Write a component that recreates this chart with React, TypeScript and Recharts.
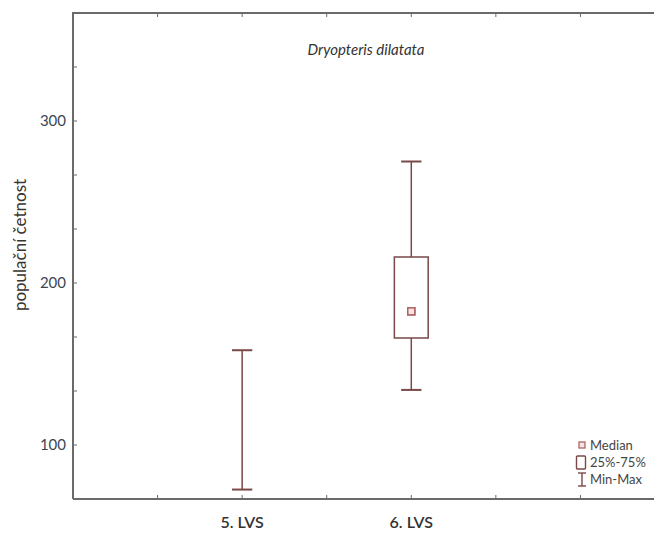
import {
  ComposedChart,
  ReferenceArea,
  ReferenceLine,
  Scatter,
  XAxis,
  YAxis
} from "recharts";

// positions of the groups on the numeric x axis (ticks 0..7)
const groups = ["5. LVS", "6. LVS"];
const groupX = [2, 4];
const minVals = [72.5, 134];
const q1Vals = [null, 166];
const medianVals = [null, 182.5];
const q3Vals = [null, 216];
const maxVals = [158.5, 275];

const xTicks = [0, 1, 2, 3, 4, 5, 6, 7];
const yTicks = [200 / 3, 100, 400 / 3, 500 / 3, 200, 700 / 3, 800 / 3, 300, 1000 / 3, 1100 / 3];
const yLabels = [100, 200, 300];
const yBottom = 200 / 3;
const yTop = 1100 / 3;

const font = "Lato, 'Open Sans', sans-serif";
const axisColor = "#6a6a6a";
const boxColor = "#7a4848";

const medianData = groupX
  .map((x, i) => ({ x, y: medianVals[i] }))
  .filter((d) => d.y !== null);

function MedianSquare(props: any) {
  const { cx, cy } = props;
  if (cx == null || cy == null) return null;
  return <rect x={cx - 3.5} y={cy - 3.5} width={7} height={7} fill="#f6e4e4" stroke="#b06464" strokeWidth={1.5} />;
}

function xLabel(v: number) {
  const i = groupX.indexOf(v);
  return i >= 0 ? groups[i] : "";
}

function yLabel(v: number) {
  return yLabels.some((l) => Math.abs(l - v) < 1e-6) ? String(Math.round(v)) : "";
}

export default function App() {
  const capHalf = 0.12;
  const boxHalf = 0.2;

  return (
    <div style={{ position: "relative", width: 662, height: 538, overflow: "hidden", margin: -8, background: "#fff" }}>
      <ComposedChart width={667} height={538} margin={{ top: 12, right: 2, bottom: 0, left: 0 }}>
        <XAxis
          dataKey="x"
          type="number"
          domain={[0, 7]}
          ticks={xTicks}
          tickFormatter={xLabel}
          height={39}
          tickSize={-4}
          tickMargin={22}
          axisLine={{ stroke: axisColor, strokeWidth: 2 }}
          tickLine={{ stroke: axisColor }}
          tick={{ fill: "#333", fontSize: 16, fontWeight: 600, fontFamily: font }}
          allowDataOverflow
        />
        {/* top edge of the frame, with inward ticks */}
        <XAxis
          xAxisId="top"
          orientation="top"
          dataKey="x"
          type="number"
          domain={[0, 7]}
          ticks={xTicks}
          tickFormatter={() => ""}
          height={1}
          tickSize={-4}
          axisLine={{ stroke: axisColor, strokeWidth: 2 }}
          tickLine={{ stroke: axisColor }}
          allowDataOverflow
        />
        <YAxis
          dataKey="y"
          type="number"
          domain={[yBottom, yTop]}
          ticks={yTicks}
          tickFormatter={yLabel}
          width={73}
          tickSize={-4}
          tickMargin={11}
          axisLine={{ stroke: axisColor, strokeWidth: 2 }}
          tickLine={{ stroke: axisColor }}
          tick={{ fill: "#3c4654", fontSize: 15, fontFamily: font }}
          allowDataOverflow
          label={{
            value: "populační četnost",
            content: () => (
              <text
                x={19}
                y={245}
                transform="rotate(-90 19 245)"
                textAnchor="middle"
                dominantBaseline="central"
                fill="#3a3530"
                fontSize={17}
                fontFamily={font}
              >
                populační četnost
              </text>
            )
          }}
        />

        {groupX.map((x, i) => {
          const q1 = q1Vals[i];
          const q3 = q3Vals[i];
          const hasBox = q1 !== null && q3 !== null;
          return [
            <ReferenceLine
              key={`lw${i}`}
              segment={[{ x, y: minVals[i] }, { x, y: hasBox ? (q1 as number) : maxVals[i] }]}
              stroke={boxColor}
              strokeWidth={1.5}
            />,
            hasBox ? (
              <ReferenceLine
                key={`uw${i}`}
                segment={[{ x, y: q3 as number }, { x, y: maxVals[i] }]}
                stroke={boxColor}
                strokeWidth={1.5}
              />
            ) : null,
            <ReferenceLine
              key={`minc${i}`}
              segment={[{ x: x - capHalf, y: minVals[i] }, { x: x + capHalf, y: minVals[i] }]}
              stroke={boxColor}
              strokeWidth={2}
            />,
            <ReferenceLine
              key={`maxc${i}`}
              segment={[{ x: x - capHalf, y: maxVals[i] }, { x: x + capHalf, y: maxVals[i] }]}
              stroke={boxColor}
              strokeWidth={2}
            />,
            hasBox ? (
              <ReferenceArea
                key={`box${i}`}
                x1={x - boxHalf}
                x2={x + boxHalf}
                y1={q1 as number}
                y2={q3 as number}
                fill="#fff"
                fillOpacity={1}
                stroke={boxColor}
                strokeWidth={1.5}
              />
            ) : null
          ];
        })}

        <Scatter data={medianData} shape={<MedianSquare />} isAnimationActive={false} />
        <Scatter xAxisId="top" data={medianData} shape={<MedianSquare />} isAnimationActive={false} />
      </ComposedChart>

      {/* top frame edge */}
      <div style={{ position: "absolute", left: 72, top: 12, width: 600, height: 2, background: axisColor }} />

      <div
        style={{
          position: "absolute",
          left: 0,
          width: 732,
          top: 40,
          textAlign: "center",
          fontFamily: font,
          fontStyle: "italic",
          fontSize: 15,
          color: "#333"
        }}
      >
        Dryopteris dilatata
      </div>

      <div style={{ position: "absolute", left: 574, top: 437, fontFamily: font, fontSize: 13, color: "#444", lineHeight: "17px" }}>
        <div style={{ display: "flex", alignItems: "center" }}>
          <svg width={16} height={17}>
            <rect x={5} y={5} width={6} height={6} fill="#f6e4e4" stroke="#b06464" strokeWidth={1.3} />
          </svg>
          <span>Median</span>
        </div>
        <div style={{ display: "flex", alignItems: "center" }}>
          <svg width={16} height={17}>
            <rect x={2.5} y={2} width={9} height={13} rx={1} fill="#fff" stroke={boxColor} strokeWidth={1.4} />
          </svg>
          <span>25%-75%</span>
        </div>
        <div style={{ display: "flex", alignItems: "center" }}>
          <svg width={16} height={17}>
            <line x1={4} x2={12} y1={2} y2={2} stroke={boxColor} strokeWidth={1.4} />
            <line x1={8} x2={8} y1={2} y2={15} stroke={boxColor} strokeWidth={1.4} />
            <line x1={4} x2={12} y1={15} y2={15} stroke={boxColor} strokeWidth={1.4} />
          </svg>
          <span>Min-Max</span>
        </div>
      </div>
    </div>
  );
}
